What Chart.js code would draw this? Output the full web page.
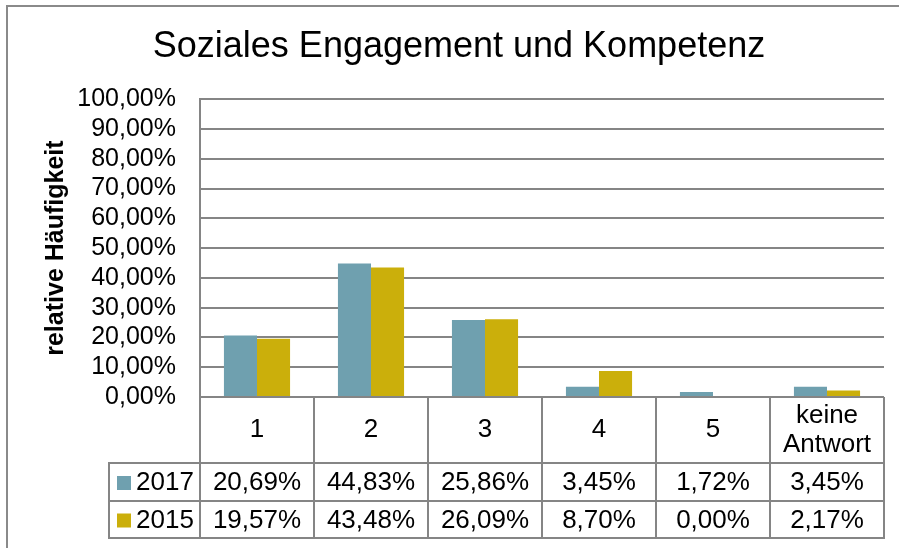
<!DOCTYPE html>
<html>
<head>
<meta charset="utf-8">
<script src="https://cdn.jsdelivr.net/npm/chart.js@4.4.1/dist/chart.umd.min.js"></script>
<style>
  html, body { margin: 0; padding: 0; background: #fff; }
</style>
</head>
<body>
<canvas id="myChart" width="899" height="548"></canvas>
<script>
const categories = ['1', '2', '3', '4', '5', ['keine', 'Antwort']];
const values2017 = [20.69, 44.83, 25.86, 3.45, 1.72, 3.45];
const values2015 = [19.57, 43.48, 26.09, 8.70, 0.00, 2.17];
const seriesNames = ['2017', '2015'];
const seriesColors = ['#6FA0AF', '#CBAF0B'];
const yMin = 0, yMax = 100, yStep = 10;

const FONT = '"Liberation Sans", Arial, sans-serif';
const LINE = '#858585';
const fmt = v => v.toFixed(2).replace('.', ',') + '%';

// outer frame of the chart
const framePlugin = {
  id: 'frame',
  beforeDraw(chart) {
    const c = chart.ctx;
    c.save();
    c.fillStyle = '#fff';
    c.fillRect(0, 0, chart.width, chart.height);
    c.strokeStyle = '#8a8a8a';
    c.lineWidth = 2;
    c.strokeRect(7, 6, chart.width + 20, chart.height + 20);
    c.restore();
  }
};

// data table under the plot (categories + values per series)
const tablePlugin = {
  id: 'dataTable',
  afterDraw(chart) {
    const c = chart.ctx;
    const a = chart.chartArea;
    const x = chart.scales.x;
    const n = categories.length;
    const half = (x.getPixelForValue(1) - x.getPixelForValue(0)) / 2;
    const edges = [];
    for (let i = 0; i < n; i++) edges.push(x.getPixelForValue(i) - half);
    edges.push(x.getPixelForValue(n - 1) + half);

    const rows = [a.bottom, 463, 501, 538];
    const tableLeft = 109;
    const series = [values2017, values2015];

    c.save();
    c.strokeStyle = LINE;
    c.lineWidth = 2;
    c.beginPath();
    for (let r = 1; r < rows.length; r++) {
      c.moveTo(tableLeft - 1, rows[r]);
      c.lineTo(edges[n] + 1, rows[r]);
    }
    edges.forEach(e => { c.moveTo(e, a.bottom); c.lineTo(e, rows[3]); });
    c.moveTo(tableLeft, rows[1]);
    c.lineTo(tableLeft, rows[3]);
    c.stroke();

    c.fillStyle = '#000';
    c.font = '26px ' + FONT;
    c.textAlign = 'center';
    c.textBaseline = 'middle';
    const midCat = (rows[0] + rows[1]) / 2;
    categories.forEach((cat, i) => {
      const cx = x.getPixelForValue(i);
      if (Array.isArray(cat)) {
        c.fillText(cat[0], cx, midCat - 14.5);
        c.fillText(cat[1], cx, midCat + 14.5);
      } else {
        c.fillText(cat, cx, midCat);
      }
    });

    series.forEach((vals, s) => {
      const cy = (rows[s + 1] + rows[s + 2]) / 2 + 1;
      c.textAlign = 'center';
      c.fillStyle = '#000';
      vals.forEach((v, i) => c.fillText(fmt(v), x.getPixelForValue(i), cy));
      c.fillStyle = seriesColors[s];
      c.fillRect(117, cy - 7, 14, 14);
      c.fillStyle = '#000';
      c.textAlign = 'left';
      c.fillText(seriesNames[s], 136, cy);
    });
    c.restore();
  }
};

const ctx = document.getElementById('myChart');
new Chart(ctx, {
  type: 'bar',
  data: {
    labels: categories,
    datasets: [
      { label: seriesNames[0], data: values2017, backgroundColor: seriesColors[0] },
      { label: seriesNames[1], data: values2015, backgroundColor: seriesColors[1] }
    ]
  },
  options: {
    responsive: false,
    animation: false,
    layout: { padding: { left: 34, right: 15, top: 0, bottom: 151 } },
    datasets: { bar: { categoryPercentage: 0.58, barPercentage: 1 } },
    plugins: {
      legend: { display: false },
      tooltip: { enabled: false },
      title: {
        display: true,
        text: 'Soziales Engagement und Kompetenz',
        color: '#000',
        font: { family: FONT, size: 36, weight: 'normal' },
        padding: { top: 25, bottom: 31 }
      }
    },
    scales: {
      x: { display: false },
      y: {
        min: yMin,
        max: yMax,
        afterFit: s => { s.width = 166; },
        ticks: {
          stepSize: yStep,
          autoSkip: false,
          color: '#000',
          padding: 24,
          font: { family: FONT, size: 25 },
          callback: v => fmt(v)
        },
        grid: { color: LINE, lineWidth: 2, drawTicks: false },
        border: { display: true, color: LINE, width: 2 },
        title: {
          display: true,
          text: 'relative Häufigkeit',
          color: '#000',
          font: { family: FONT, size: 25, weight: 'bold' },
          padding: { top: 7, bottom: 0 }
        }
      }
    }
  },
  plugins: [framePlugin, tablePlugin]
});
</script>
</body>
</html>
